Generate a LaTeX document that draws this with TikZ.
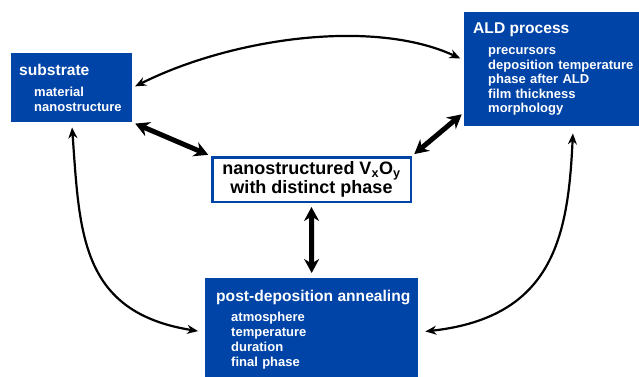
\documentclass[tikz,border=0pt]{standalone}
\usepackage{fontspec}
\setmainfont{Liberation Sans}
\usetikzlibrary{arrows.meta}
\definecolor{aldblue}{RGB}{0,68,168}
\tikzset{infobox/.style={fill=aldblue, text=white, anchor=north west, align=left, inner xsep=8pt, inner ysep=0pt, font=\bfseries\fontsize{13}{14.5}\selectfont},
  resultbox/.style={draw=aldblue, line width=2.5pt, fill=white, align=center, font=\bfseries\fontsize{18}{14.5}\selectfont},
  thinlink/.style={black, line width=2.2pt, {Stealth[length=11pt,width=9pt]}-{Stealth[length=11pt,width=9pt]}, shorten <=4pt, shorten >=4pt},
  thicklink/.style={black, line width=5pt, {Stealth[length=14pt,width=15pt]}-{Stealth[length=14pt,width=15pt]}, shorten <=3pt, shorten >=3pt}}
\newcommand{\boxtitle}[1]{{\fontsize{15.6}{14.5}\selectfont\mbox{#1}}}
\newcommand{\boxitem}[1]{\hspace*{15pt}\mbox{#1}}

\begin{document}
\begin{tikzpicture}[x=1pt,y=-1pt]
  \useasboundingbox (0,0) rectangle (639,376);
  \node[infobox, text width=105, minimum height=69] (substrate) at (11,53)
    {\boxtitle{substrate}\\[6.5pt]\boxitem{material}\\\boxitem{nanostructure}};
  \node[infobox, inner xsep=9pt, text width=170, minimum height=114] (ALD) at (464,12)
    {\boxtitle{ALD process}\\[6.5pt]\boxitem{precursors}\\\boxitem{deposition temperature}\\\boxitem{phase after ALD}\\\boxitem{film thickness}\\\boxitem{morphology}};
  \node[infobox, inner xsep=11pt, text width=191, minimum height=102, font=\bfseries\fontsize{13}{15}\selectfont] (annealing) at (205,278)
    {\boxtitle{post-deposition annealing}\\[5pt]\boxitem{atmosphere}\\\boxitem{temperature}\\\boxitem{duration}\\\boxitem{final phase}};
  \node[resultbox, minimum width=198.5, minimum height=44.5] (result) at (311.5,179.5)
    {nanostructured V\textsubscript{x}O\textsubscript{y}\\with distinct phase};
  \draw[thinlink, shorten <=3pt] (substrate.east) .. controls +(100,-50) and +(-90,-42) .. ([yshift=9pt]ALD.west);
  \draw[thinlink, shorten <=5pt, shorten >=7pt] (substrate.south) .. controls +(8,110) and +(-125,-20) .. ([yshift=-3pt]annealing.west);
  \draw[thinlink, shorten <=7pt, shorten >=7pt] ([xshift=15pt]ALD.south) .. controls +(-5,110) and +(135,-15) .. ([yshift=-3pt]annealing.east);
  \draw[thicklink] (substrate.south east) -- (result.north west);
  \draw[thicklink] (result.north east) -- ([yshift=14pt]ALD.south west);
  \draw[thicklink, shorten <=4pt, shorten >=5pt] (result.south) -- (annealing.north);
\end{tikzpicture}
\end{document}
